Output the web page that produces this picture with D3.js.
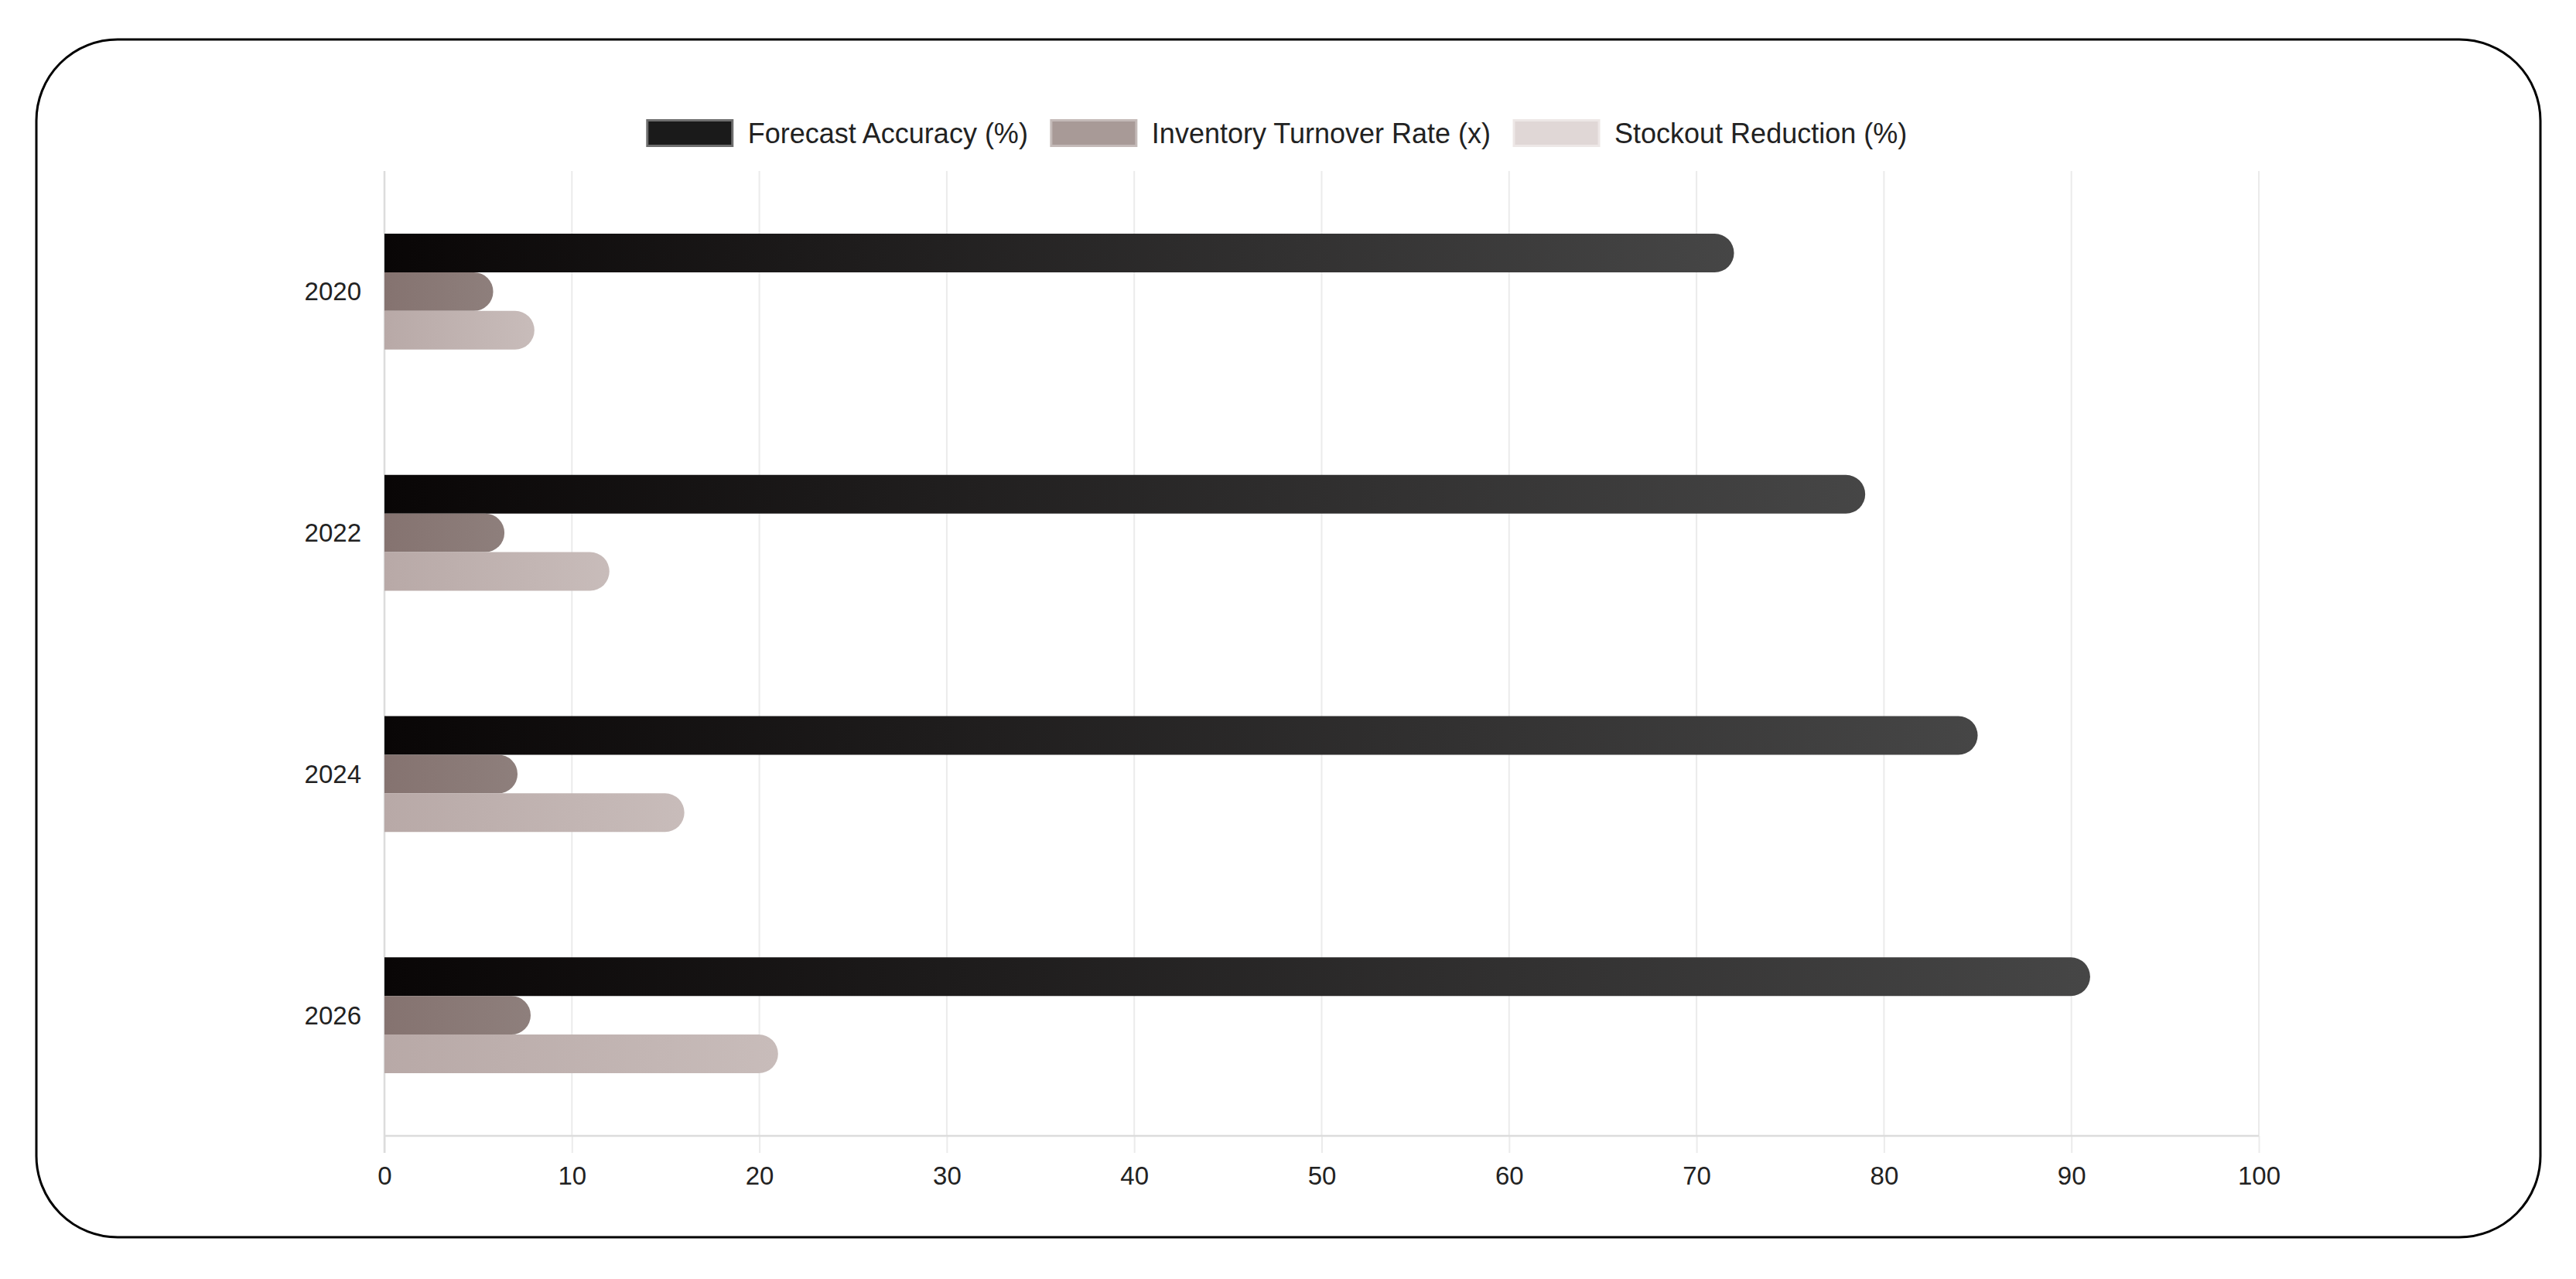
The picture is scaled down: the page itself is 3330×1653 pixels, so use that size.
<!DOCTYPE html>
<html>

<head>
    <title>Forecast bars</title>
    <script src="https://cdn.jsdelivr.net/npm/d3@7"></script>
    <style>
        body { margin: 0; background: #fff; }
        text { font-family: "Liberation Sans", Arial, sans-serif; }
    </style>
</head>

<body>
    <svg width="3330" height="1653" id="mainsvg"></svg>
    <script>
        // data
        const years = ['2020', '2022', '2024', '2026'];
        const forecastAccuracy = [72, 79, 85, 91];
        const inventoryTurnover = [5.8, 6.4, 7.1, 7.8];
        const stockoutReduction = [8, 12, 16, 21];
        const seriesNames = ['Forecast Accuracy (%)', 'Inventory Turnover Rate (x)', 'Stockout Reduction (%)'];
        const xDomain = [0, 100];

        const series = [
            { key: 'fa', name: seriesNames[0], values: forecastAccuracy, from: '#090606', to: '#464646', box: '#1a1a1a', boxStroke: '#6e6e6e' },
            { key: 'it', name: seriesNames[1], values: inventoryTurnover, from: '#857370', to: '#8e7f7c', box: '#a89a97', boxStroke: '#c4bab8' },
            { key: 'sr', name: seriesNames[2], values: stockoutReduction, from: '#b8a9a7', to: '#c8bcba', box: '#e0d7d6', boxStroke: '#ede7e6' }
        ];

        const svg = d3.select('svg');
        const width = +svg.attr('width');
        const height = +svg.attr('height');
        const FONT = 33;
        const LEGEND_FONT = 36;
        const plot = { left: 497, right: 2920, top: 221, bottom: 1468 };

        // card border
        svg.append('rect')
            .attr('x', 47).attr('y', 51)
            .attr('width', 3284 - 47).attr('height', 1599 - 51)
            .attr('rx', 105).attr('ry', 105)
            .attr('fill', '#fff').attr('stroke', '#000').attr('stroke-width', 3);

        const x = d3.scaleLinear().domain(xDomain).range([plot.left, plot.right]);
        const y = d3.scaleBand().domain(years).range([plot.top, plot.bottom]);
        const groupH = y.bandwidth() * 0.48;
        const sub = d3.scaleBand().domain(series.map(s => s.key)).range([0, groupH]);
        const groupOff = (y.bandwidth() - groupH) / 2;

        // gradients, one per series, stretched over each bar
        const defs = svg.append('defs');
        series.forEach(s => {
            const g = defs.append('linearGradient').attr('id', 'grad-' + s.key)
                .attr('x1', '0%').attr('x2', '100%').attr('y1', '0%').attr('y2', '0%');
            g.append('stop').attr('offset', '0%').attr('stop-color', s.from);
            g.append('stop').attr('offset', '100%').attr('stop-color', s.to);
        });

        // vertical gridlines
        svg.append('g').selectAll('line').data(x.ticks(10)).join('line')
            .attr('x1', d => x(d)).attr('x2', d => x(d))
            .attr('y1', plot.top).attr('y2', plot.bottom)
            .attr('stroke', '#ebebeb').attr('stroke-width', 2);

        // x axis
        const xAxis = svg.append('g')
            .attr('transform', `translate(0,${plot.bottom})`)
            .call(d3.axisBottom(x).ticks(10).tickSize(22).tickPadding(18));
        xAxis.select('.domain').remove();
        xAxis.selectAll('line').attr('stroke', '#ebebeb').attr('stroke-width', 2);
        xAxis.selectAll('text').attr('font-size', FONT).attr('fill', '#222')
            .attr('font-family', '"Liberation Sans", Arial, sans-serif');

        // axis borders
        svg.append('line').attr('x1', plot.left).attr('x2', plot.right)
            .attr('y1', plot.bottom).attr('y2', plot.bottom)
            .attr('stroke', '#dcdcdc').attr('stroke-width', 2.5);
        svg.append('line').attr('x1', plot.left).attr('x2', plot.left)
            .attr('y1', plot.top).attr('y2', plot.bottom + 22)
            .attr('stroke', '#dcdcdc').attr('stroke-width', 2.5);

        // y labels
        svg.append('g').selectAll('text').data(years).join('text')
            .attr('x', plot.left - 30)
            .attr('y', d => y(d) + y.bandwidth() / 2)
            .attr('dy', '0.35em')
            .attr('text-anchor', 'end')
            .attr('font-size', FONT).attr('fill', '#222')
            .text(d => d);

        // bar path: flat at the start, rounded at the end
        const barPath = (x0, x1, top, h) => {
            const r = Math.min(h / 2, x1 - x0);
            return `M${x0},${top} H${x1 - r} A${r},${r} 0 0 1 ${x1},${top + r} V${top + h - r} A${r},${r} 0 0 1 ${x1 - r},${top + h} H${x0} Z`;
        };

        series.forEach(s => {
            svg.append('g').selectAll('path').data(years).join('path')
                .attr('d', (d, i) => barPath(x(0), x(s.values[i]), y(d) + groupOff + sub(s.key), sub.bandwidth()))
                .attr('fill', `url(#grad-${s.key})`);
        });

        // legend
        const legend = svg.append('g');
        const boxW = 110, boxH = 33, gapText = 20, gapItem = 30, legendY = 172;
        let cursor = 0;
        series.forEach(s => {
            const item = legend.append('g').attr('transform', `translate(${cursor},0)`);
            item.append('rect').attr('x', 0).attr('y', legendY - boxH / 2)
                .attr('width', boxW).attr('height', boxH)
                .attr('fill', s.box).attr('stroke', s.boxStroke).attr('stroke-width', 3);
            const t = item.append('text').attr('x', boxW + gapText).attr('y', legendY)
                .attr('dy', '0.35em').attr('font-size', LEGEND_FONT).attr('fill', '#222').text(s.name);
            cursor += boxW + gapText + t.node().getComputedTextLength() + gapItem;
        });
        const legendW = cursor - gapItem;
        legend.attr('transform', `translate(${1651 - legendW / 2},0)`);
    </script>
</body>

</html>
